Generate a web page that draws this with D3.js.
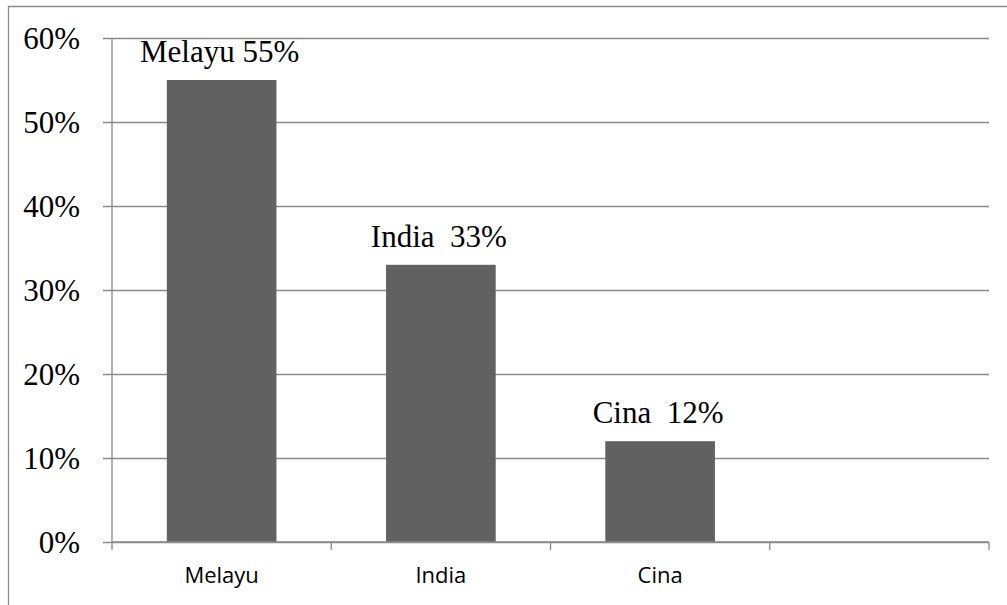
<!DOCTYPE html>
<html>
<head>
<meta charset="utf-8">
<script src="https://cdn.jsdelivr.net/npm/d3@7"></script>
<style>
  html, body { margin: 0; padding: 0; background: #fff; }
  svg { display: block; }
  text { white-space: pre; }
</style>
</head>
<body>
<svg id="chart" width="1007" height="605"></svg>
<script>
// ---- data ----
const categories = ["Melayu", "India", "Cina", ""];
const values = [0.55, 0.33, 0.12, null];
const dataLabels = ["Melayu 55%", "India  33%", "Cina  12%", ""];
const yTicks = [0, 0.1, 0.2, 0.3, 0.4, 0.5, 0.6];

const svg = d3.select("#chart");
const W = 1007, H = 605;
const plotLeft = 112, plotRight = 989, plotTop = 38, plotBottom = 542;
const gridColor = "#8a8a8a";
const barColor = "#616161";

// frame
svg.append("line").attr("x1", 8).attr("x2", W).attr("y1", 6.5).attr("y2", 6.5)
  .attr("stroke", gridColor).attr("stroke-width", 1.3);
svg.append("line").attr("x1", 8.5).attr("x2", 8.5).attr("y1", 6).attr("y2", H)
  .attr("stroke", gridColor).attr("stroke-width", 1.3);

const x = d3.scaleBand().domain(categories).range([plotLeft, plotRight])
  .paddingInner(0.5).paddingOuter(0.25);
const y = d3.scaleLinear().domain([0, 0.6]).range([plotBottom, plotTop]);

// y axis with gridlines
const yAxis = d3.axisLeft(y).tickValues(yTicks)
  .tickSize(-(plotRight - plotLeft)).tickPadding(32)
  .tickFormat(d3.format(".0%"));
const gy = svg.append("g").attr("transform", `translate(${plotLeft},0)`).call(yAxis);
gy.select(".domain").remove();
gy.selectAll(".tick line").attr("stroke", gridColor).attr("stroke-width", 1.3)
  .attr("x1", -9);
gy.selectAll(".tick text")
  .attr("font-family", "Liberation Serif, Times New Roman, serif")
  .attr("font-size", 31).attr("fill", "#000").attr("dy", "0.33em");
svg.append("line").attr("x1", plotLeft).attr("x2", plotLeft).attr("y1", plotTop).attr("y2", plotBottom)
  .attr("stroke", gridColor).attr("stroke-width", 1.3);

// bars
const barData = categories.map((c, i) => ({c, v: values[i], label: dataLabels[i]}))
  .filter(d => d.v !== null);
svg.append("g").selectAll("rect").data(barData).join("rect")
  .attr("x", d => x(d.c)).attr("width", x.bandwidth())
  .attr("y", d => y(d.v)).attr("height", d => y(0) - y(d.v))
  .attr("fill", barColor);

// x axis
const step = x.step();
const boundaries = d3.range(categories.length + 1).map(i => plotLeft + i * step);
svg.append("line").attr("x1", plotLeft).attr("x2", plotRight).attr("y1", plotBottom).attr("y2", plotBottom)
  .attr("stroke", gridColor).attr("stroke-width", 1.3);
svg.append("g").selectAll("line").data(boundaries).join("line")
  .attr("x1", d => d).attr("x2", d => d).attr("y1", plotBottom).attr("y2", plotBottom + 8)
  .attr("stroke", gridColor).attr("stroke-width", 1.3);
svg.append("g").selectAll("text").data(categories).join("text")
  .attr("x", d => x(d) + x.bandwidth() / 2).attr("y", 583)
  .attr("text-anchor", "middle")
  .attr("font-family", "Open Sans, sans-serif").attr("font-size", 22)
  .attr("fill", "#000").text(d => d);

// data labels
svg.append("g").selectAll("text").data(barData).join("text")
  .attr("x", d => x(d.c) + x.bandwidth() / 2 - 2).attr("y", d => y(d.v) - 18)
  .attr("text-anchor", "middle")
  .attr("font-family", "Liberation Serif, Times New Roman, serif").attr("font-size", 31)
  .attr("fill", "#000").text(d => d.label);
</script>
</body>
</html>
